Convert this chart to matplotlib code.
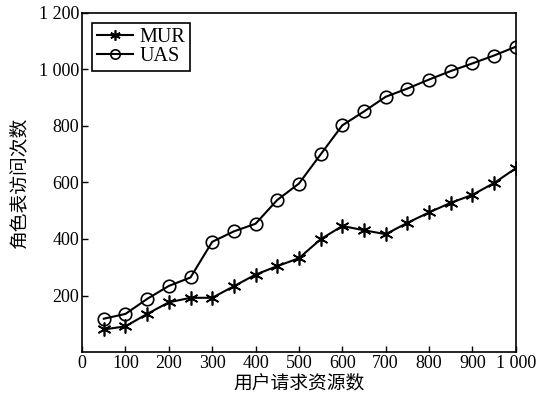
import matplotlib.pyplot as plt
from matplotlib.ticker import FuncFormatter

plt.rcParams['font.family'] = ['Liberation Serif', 'Noto Sans CJK SC']

requests = [50, 100, 150, 200, 250, 300, 350, 400, 450, 500,
            550, 600, 650, 700, 750, 800, 850, 900, 950, 1000]
mur = [80, 91, 135, 176, 192, 192, 233, 274, 304, 332,
       399, 446, 431, 417, 457, 494, 528, 556, 598, 650]
uas = [118, 135, 188, 234, 264, 390, 427, 454, 538, 596,
       699, 802, 851, 903, 932, 964, 994, 1021, 1049, 1080]

x_ticks = [0, 100, 200, 300, 400, 500, 600, 700, 800, 900, 1000]
y_ticks = [200, 400, 600, 800, 1000, 1200]


def thousands(v, pos):
    v = int(round(v))
    if v >= 1000:
        return f'{v // 1000} {v % 1000:03d}'
    return str(v)


fig = plt.figure(figsize=(5.51, 4.01), dpi=100)
ax = fig.add_axes([0.149, 0.122, 0.787, 0.846])

ax.plot(requests, mur, color='black', lw=1.5, marker=(6, 2, 0),
        markersize=10, markeredgewidth=1.2, label='MUR')
ax.plot(requests, uas, color='black', lw=1.5, marker='o',
        markersize=9, markerfacecolor='none', markeredgewidth=1.2, label='UAS')

ax.set_xlim(0, 1000)
ax.set_ylim(0, 1200)
ax.set_xticks(x_ticks)
ax.set_yticks(y_ticks)
ax.xaxis.set_major_formatter(FuncFormatter(thousands))
ax.yaxis.set_major_formatter(FuncFormatter(thousands))
ax.tick_params(direction='in', length=4, width=1, labelsize=13, pad=2)
for s in ax.spines.values():
    s.set_linewidth(1.2)

ax.set_xlabel('用户请求资源数', fontsize=13.5, labelpad=2)
ax.set_ylabel('角色表访问次数', fontsize=13.5, labelpad=8)

leg = ax.legend(loc='upper left', fontsize=14.5, fancybox=False,
                edgecolor='black', framealpha=1, handlelength=1.8,
                handletextpad=0.3, borderpad=0.25, labelspacing=0.0,
                markerscale=0.75, borderaxespad=0.5)
leg.get_frame().set_linewidth(1.2)

fig.savefig('out.png', dpi=100)
